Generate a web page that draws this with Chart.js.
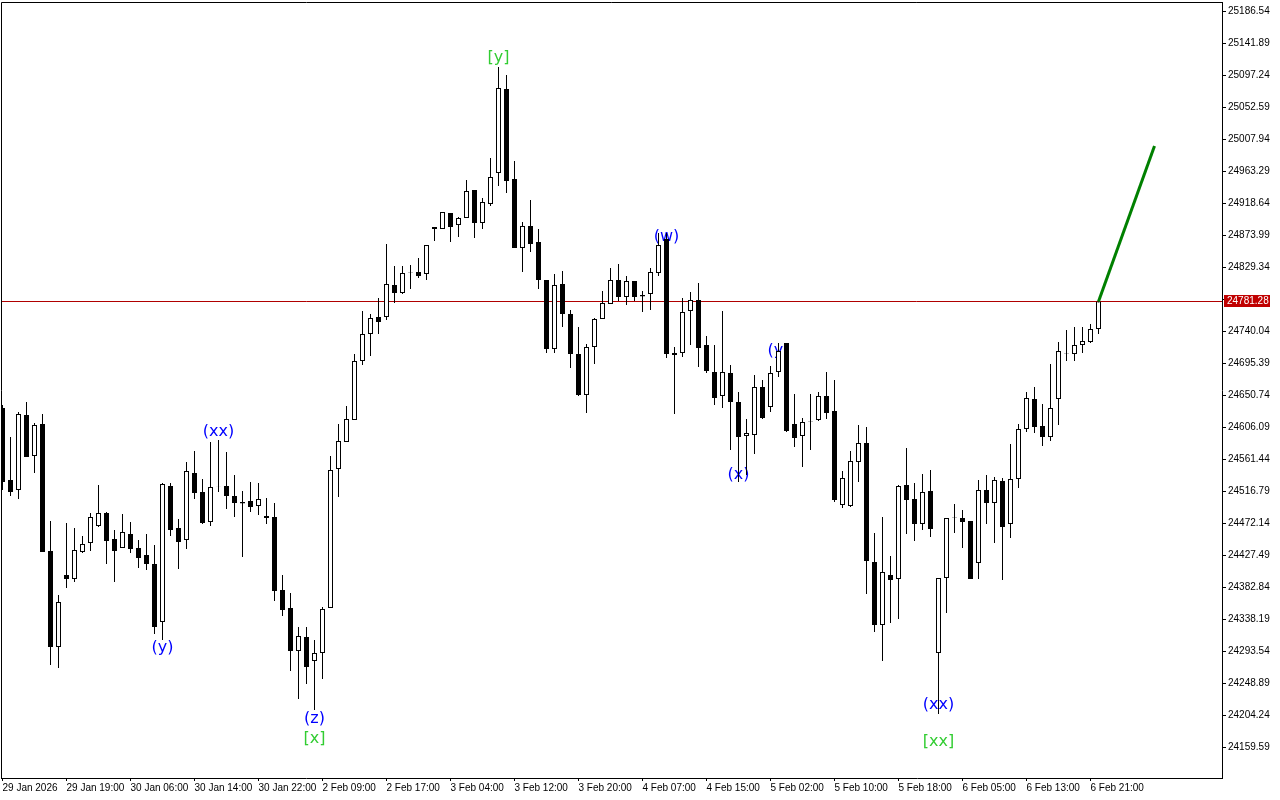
<!DOCTYPE html>
<html>
<head>
<meta charset="utf-8">
<script src="https://cdn.jsdelivr.net/npm/chart.js@4.4.0/dist/chart.umd.min.js"></script>
<style>
  html, body { margin: 0; padding: 0; background: #fff; }
</style>
</head>
<body>
<canvas id="chart" width="1280" height="800"></canvas>
<script>
// hourly candles, index 0 = first bar on screen
const opens = [
  24632.6, 24532.2, 24518.2, 24622.8, 24565.6, 24610.3, 24433.1, 24299.1, 24399.6, 24394.0,
  24431.7, 24444.2, 24468.0, 24486.1, 24449.8, 24437.3, 24456.8, 24437.3, 24427.5, 24414.9,
  24334.0, 24523.8, 24465.2, 24448.4, 24541.9, 24515.4, 24473.5, 24523.3, 24523.8, 24509.8,
  24501.5, 24502.8, 24495.9, 24481.9, 24480.5, 24378.7, 24353.6, 24293.5, 24313.1, 24279.6,
  24290.8, 24353.6, 24547.5, 24585.2, 24615.9, 24698.2, 24735.9, 24759.6, 24759.6, 24804.2,
  24793.1, 24821.7, 24822.4, 24819.6, 24882.4, 24882.4, 24904.7, 24887.9, 24897.7, 24936.8,
  24890.7, 24917.3, 24960.5, 25077.7, 24952.1, 24855.9, 24886.6, 24864.2, 24811.2, 24714.9,
  24805.6, 24763.8, 24708.0, 24650.7, 24717.7, 24756.8, 24777.7, 24811.2, 24787.5, 24809.8,
  24790.3, 24791.7, 24821.0, 24868.4, 24706.6, 24709.3, 24768.0, 24783.3, 24720.5, 24682.8,
  24649.4, 24681.4, 24641.0, 24593.5, 24594.9, 24661.9, 24634.0, 24682.8, 24723.3, 24610.3,
  24593.5, 24613.1, 24615.9, 24649.4, 24628.4, 24497.3, 24495.9, 24557.3, 24583.8, 24417.7,
  24329.8, 24399.6, 24394.0, 24525.2, 24505.6, 24470.8, 24516.8, 24290.8, 24395.4, 24479.1,
  24479.1, 24474.9, 24416.3, 24518.2, 24500.1, 24530.8, 24470.8, 24533.5, 24603.3, 24645.2,
  24607.5, 24592.1, 24645.2, 24708.7, 24708.0, 24720.5, 24724.7, 24742.8
];
const highs = [
  24636.8, 24592.1, 24627.0, 24641.0, 24611.7, 24624.2, 24474.9, 24371.7, 24472.1, 24465.2,
  24454.0, 24486.1, 24525.2, 24487.5, 24462.4, 24484.7, 24473.5, 24448.4, 24456.8, 24441.5,
  24528.0, 24528.0, 24477.7, 24557.3, 24572.6, 24533.5, 24585.2, 24588.0, 24571.2, 24539.1,
  24516.8, 24529.4, 24528.0, 24507.0, 24500.1, 24399.6, 24374.5, 24327.0, 24327.0, 24308.9,
  24354.9, 24565.6, 24610.3, 24635.4, 24708.0, 24768.0, 24763.8, 24786.1, 24861.4, 24830.7,
  24830.7, 24832.1, 24841.9, 24860.0, 24885.2, 24906.1, 24904.7, 24899.1, 24950.7, 24936.8,
  24925.6, 24981.4, 25108.4, 25097.2, 24977.2, 24892.1, 24922.8, 24882.4, 24811.2, 24819.6,
  24823.8, 24769.4, 24745.6, 24721.9, 24758.2, 24795.9, 24828.0, 24833.5, 24816.8, 24809.8,
  24795.9, 24828.0, 24876.8, 24876.8, 24717.7, 24786.1, 24794.5, 24807.0, 24733.1, 24720.5,
  24768.0, 24692.6, 24654.9, 24617.3, 24678.7, 24671.7, 24691.2, 24723.3, 24723.3, 24652.1,
  24618.7, 24652.1, 24654.9, 24682.8, 24671.7, 24544.7, 24572.6, 24608.9, 24606.1, 24458.2,
  24480.5, 24426.1, 24525.2, 24576.8, 24528.0, 24540.5, 24546.1, 24395.4, 24479.1, 24498.7,
  24490.3, 24474.9, 24532.2, 24539.1, 24536.3, 24534.9, 24582.4, 24610.3, 24654.9, 24661.9,
  24638.2, 24694.0, 24724.7, 24741.4, 24745.6, 24745.6, 24749.8, 24781.28
];
const lows = [
  24518.2, 24509.8, 24505.6, 24564.2, 24541.9, 24431.7, 24274.0, 24269.8, 24381.5, 24389.8,
  24430.3, 24433.1, 24466.6, 24414.9, 24389.8, 24437.3, 24430.3, 24409.4, 24406.6, 24317.3,
  24308.9, 24454.0, 24408.0, 24435.9, 24505.6, 24470.8, 24468.0, 24515.4, 24491.7, 24480.5,
  24424.7, 24487.5, 24483.3, 24470.8, 24363.3, 24342.4, 24265.6, 24226.6, 24247.5, 24211.2,
  24254.5, 24353.6, 24508.4, 24585.2, 24615.9, 24692.6, 24705.2, 24735.9, 24755.4, 24779.1,
  24791.7, 24798.7, 24814.0, 24811.2, 24865.6, 24882.4, 24864.2, 24871.2, 24897.7, 24869.8,
  24882.4, 24914.5, 24942.4, 24932.6, 24855.9, 24822.4, 24850.3, 24798.7, 24709.3, 24709.3,
  24745.6, 24688.4, 24649.4, 24625.6, 24694.0, 24756.8, 24777.7, 24781.9, 24776.3, 24781.9,
  24766.6, 24769.4, 24816.8, 24702.4, 24624.2, 24703.8, 24720.5, 24689.8, 24681.4, 24636.8,
  24632.6, 24574.0, 24529.4, 24539.1, 24568.4, 24617.3, 24627.0, 24675.9, 24599.1, 24578.2,
  24550.3, 24574.0, 24614.5, 24617.3, 24501.5, 24493.1, 24494.5, 24529.4, 24373.1, 24320.1,
  24279.6, 24332.6, 24338.2, 24456.8, 24447.0, 24462.4, 24452.6, 24205.7, 24346.6, 24458.2,
  24437.3, 24394.0, 24394.0, 24470.8, 24444.2, 24392.6, 24451.2, 24521.0, 24599.1, 24597.7,
  24579.6, 24586.6, 24608.9, 24698.2, 24698.2, 24709.3, 24723.3, 24735.9
];
const closes = [
  24529.4, 24515.4, 24624.2, 24564.2, 24608.9, 24431.7, 24299.1, 24361.9, 24394.0, 24434.5,
  24442.9, 24480.5, 24486.1, 24447.0, 24433.1, 24459.6, 24435.9, 24423.3, 24414.9, 24327.0,
  24526.6, 24462.4, 24445.6, 24544.7, 24514.0, 24472.1, 24522.4, 24523.8, 24509.8, 24500.1,
  24499.4, 24494.5, 24505.6, 24479.1, 24377.3, 24350.8, 24293.5, 24314.5, 24271.2, 24290.8,
  24352.2, 24546.1, 24586.6, 24617.3, 24698.2, 24735.9, 24758.2, 24752.6, 24805.6, 24793.1,
  24821.0, 24822.4, 24816.8, 24860.0, 24885.2, 24906.1, 24885.2, 24897.7, 24935.4, 24890.7,
  24920.0, 24954.9, 25079.1, 24949.3, 24855.9, 24886.6, 24861.4, 24811.2, 24714.9, 24804.2,
  24763.8, 24708.0, 24650.7, 24717.7, 24756.8, 24779.1, 24811.2, 24787.5, 24809.8, 24787.5,
  24788.2, 24822.4, 24860.0, 24708.0, 24709.3, 24766.6, 24783.3, 24716.3, 24684.2, 24646.6,
  24682.8, 24641.0, 24592.1, 24597.7, 24661.9, 24618.7, 24681.4, 24712.1, 24600.5, 24590.8,
  24613.1, 24613.8, 24649.4, 24625.6, 24504.2, 24534.9, 24558.7, 24583.8, 24419.1, 24329.8,
  24403.8, 24392.6, 24523.8, 24504.2, 24470.8, 24515.4, 24463.8, 24395.4, 24479.1, 24479.8,
  24473.5, 24394.0, 24518.2, 24500.1, 24532.2, 24466.6, 24533.5, 24603.3, 24646.6, 24606.1,
  24592.1, 24632.6, 24712.1, 24709.3, 24720.5, 24726.1, 24742.8, 24781.28
];

const timeLabels = [
  "29 Jan 2026", "29 Jan 19:00", "30 Jan 06:00", "30 Jan 14:00", "30 Jan 22:00",
  "2 Feb 09:00", "2 Feb 17:00", "3 Feb 04:00", "3 Feb 12:00", "3 Feb 20:00",
  "4 Feb 07:00", "4 Feb 15:00", "5 Feb 02:00", "5 Feb 10:00", "5 Feb 18:00",
  "6 Feb 05:00", "6 Feb 13:00", "6 Feb 21:00"
];
const labelStep = 8; // bars between time labels

const priceTicks = [
  25186.54, 25141.89, 25097.24, 25052.59, 25007.94, 24963.29, 24918.64, 24873.99,
  24829.34, 24784.69, 24740.04, 24695.39, 24650.74, 24606.09, 24561.44, 24516.79,
  24472.14, 24427.49, 24382.84, 24338.19, 24293.54, 24248.89, 24204.24, 24159.59
];
const bidPrice = 24781.28;

// projection segment (bar index, price)
const projX = [137, 144];
const projY = [24781.28, 24998.2];

// wave marks
const waveText  = ["(y)", "(xx)", "(z)", "[x]", "[y]", "(w)", "(x)", "(y)", "(xx)", "[xx]"];
const waveBar   = [20, 27, 39, 39, 62, 83, 92, 97, 117, 117];
const wavePrice = [24297.7, 24599.1, 24198.7, 24170.8, 25121.0, 24871.2, 24539.1, 24712.1, 24218.2, 24166.6];
const waveColor = ["#0000ff", "#0000ff", "#0000ff", "#32cd32", "#32cd32", "#0000ff", "#0000ff", "#0000ff", "#0000ff", "#32cd32"];

const FONT = "Liberation Sans";
Chart.defaults.font.family = FONT;
Chart.defaults.font.size = 10;
Chart.defaults.color = "#000";

const wicks = opens.map((o, i) => ({ x: i, y: [lows[i], highs[i]] }));
const bodies = opens.map((o, i) => ({ x: i, y: [o, closes[i]] }));
const bodyFill = opens.map((o, i) => closes[i] >= o ? "#ffffff" : "#000000");
const proj = projX.map((x, i) => ({ x: x, y: projY[i] }));

const overlay = {
  id: "overlay",
  beforeDatasetsDraw(chart) {
    const { ctx, chartArea, scales } = chart;
    const x = scales.x, y = scales.y;
    ctx.save();
    // bid line
    const by = Math.round(y.getPixelForValue(bidPrice)) + 0.5;
    ctx.strokeStyle = "#b00000";
    ctx.lineWidth = 1;
    ctx.beginPath();
    ctx.moveTo(chartArea.left, by);
    ctx.lineTo(chartArea.right, by);
    ctx.stroke();
    // wave labels
    ctx.font = "16px 'DejaVu Sans'";
    ctx.textAlign = "center";
    ctx.textBaseline = "middle";
    waveText.forEach((t, i) => {
      ctx.fillStyle = waveColor[i];
      ctx.fillText(t, x.getPixelForValue(waveBar[i]), y.getPixelForValue(wavePrice[i]));
    });
    ctx.restore();
  },
  afterDraw(chart) {
    const { ctx, chartArea, scales } = chart;
    const y = scales.y;
    ctx.save();
    ctx.strokeStyle = "#000";
    ctx.lineWidth = 1;
    ctx.beginPath();
    ctx.moveTo(chartArea.left + 0.5, chartArea.bottom);
    ctx.lineTo(chartArea.left + 0.5, chartArea.top + 0.5);
    ctx.lineTo(chartArea.right, chartArea.top + 0.5);
    ctx.stroke();
    // bid price tag on the axis
    const by = Math.round(y.getPixelForValue(bidPrice));
    ctx.fillStyle = "#c00000";
    ctx.fillRect(chartArea.right + 2, by - 6, 46, 12);
    ctx.fillStyle = "#fff";
    ctx.font = "10px '" + FONT + "'";
    ctx.textBaseline = "middle";
    ctx.textAlign = "left";
    ctx.fillText(bidPrice.toFixed(2), chartArea.right + 5, by + 0.5);
    ctx.restore();
  }
};

new Chart(document.getElementById("chart"), {
  type: "bar",
  data: {
    datasets: [
      {
        label: "body",
        data: bodies,
        backgroundColor: bodyFill,
        borderColor: "#000",
        borderWidth: 1,
        borderSkipped: false,
        inflateAmount: 0,
        barThickness: 5,
        grouped: false,
        order: 1
      },
      {
        label: "wick",
        data: wicks,
        backgroundColor: "#000",
        borderWidth: 0,
        inflateAmount: 0,
        barThickness: 1,
        grouped: false,
        order: 2
      },
      {
        type: "line",
        label: "projection",
        data: proj,
        borderColor: "#008000",
        borderWidth: 3,
        pointRadius: 0,
        order: 0
      }
    ]
  },
  options: {
    responsive: false,
    animation: false,
    events: [],
    layout: { padding: { left: 1, top: 2, right: 0, bottom: 0 } },
    plugins: { legend: { display: false }, tooltip: { enabled: false } },
    scales: {
      x: {
        type: "linear",
        min: -0.1875,
        max: 152.4375,
        offset: false,
        afterBuildTicks(scale) {
          scale.ticks = timeLabels.map((t, i) => ({ value: i * labelStep }));
        },
        afterFit(scale) {
          scale.height = 22;
          scale.paddingLeft = 0;
          scale.paddingRight = 0;
        },
        ticks: {
          autoSkip: false,
          maxRotation: 0,
          align: "start",
          padding: 1,
          callback: (v) => timeLabels[Math.round(v / labelStep)]
        },
        grid: { drawOnChartArea: false, drawTicks: true, tickLength: 3, color: "#000", offset: false },
        border: { display: true, color: "#000" }
      },
      y: {
        position: "right",
        min: 24116.35,
        max: 25199.1,
        afterBuildTicks(scale) {
          scale.ticks = priceTicks.map(v => ({ value: v }));
        },
        afterFit(scale) {
          scale.width = 58;
          scale.paddingTop = 0;
          scale.paddingBottom = 0;
        },
        ticks: {
          autoSkip: false,
          padding: 2,
          callback: (v) => Math.abs(v - bidPrice) < 10 ? "" : v.toFixed(2)
        },
        grid: { drawOnChartArea: false, drawTicks: true, tickLength: 4, color: "#000" },
        border: { display: true, color: "#000" }
      }
    }
  },
  plugins: [overlay]
});
</script>
</body>
</html>
